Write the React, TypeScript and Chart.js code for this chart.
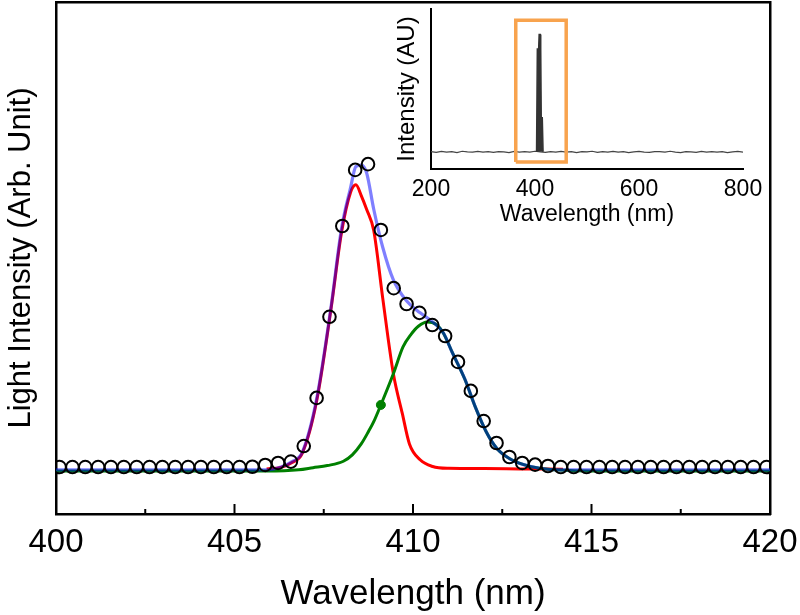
import React, { useEffect, useRef } from "react";
import { Chart, registerables } from "chart.js";

Chart.register(...registerables);

// ---------- main chart data ----------
const measX = [
  400.1, 400.46, 400.82, 401.18, 401.54, 401.9, 402.26, 402.62, 402.98, 403.34,
  403.7, 404.06, 404.42, 404.78, 405.14, 405.5, 405.86, 406.22, 406.58, 406.94,
  407.3, 407.66, 408.02, 408.38, 408.74, 409.1, 409.46, 409.82, 410.18, 410.54,
  410.9, 411.26, 411.62, 411.98, 412.34, 412.7, 413.06, 413.42, 413.78, 414.14,
  414.5, 414.86, 415.22, 415.58, 415.94, 416.3, 416.66, 417.02, 417.38, 417.74,
  418.1, 418.46, 418.82, 419.18, 419.54, 419.9,
];
const measY = [
  0.4, 0.4, 0.4, 0.4, 0.4, 0.4, 0.4, 0.4, 0.4, 0.4,
  0.4, 0.4, 0.4, 0.4, 0.4, 0.5, 1.1, 1.75, 2.2, 7.3,
  23.1, 49.7, 79.5, 97.9, 99.8, 78.2, 59.1, 53.9, 51.0, 47.0,
  43.4, 34.9, 25.4, 15.5, 8.3, 3.7, 1.75, 1.2, 0.75, 0.4,
  0.4, 0.4, 0.4, 0.4, 0.4, 0.4, 0.4, 0.4, 0.4, 0.4,
  0.4, 0.4, 0.4, 0.4, 0.4, 0.4,
];

const peak1X = [405.9, 406.3, 406.6, 406.9, 407.3, 407.7, 408.0, 408.25, 408.4, 408.55, 408.7, 408.9, 409.15, 409.45, 409.7, 409.9, 410.2, 410.55, 411.0, 412.0, 413.0, 414.2];
const peak1Y = [-0.2, 0.3, 1.8, 5.0, 22.0, 52.0, 77.5, 90.5, 93.0, 89.5, 85.0, 78.0, 56.0, 31.0, 18.0, 8.0, 2.8, 0.6, 0.0, -0.1, -0.2, -0.3];

const peak2X = [400, 405.9, 406.8, 407.2, 407.6, 408.05, 408.3, 408.55, 408.75, 408.9, 409.1, 409.45, 409.72, 409.95, 410.15, 410.4, 410.65, 410.85, 411.1, 411.45, 411.75, 412.05, 412.35, 412.7, 413.1, 413.55, 414.1, 415, 420];
const peak2Y = [-0.9, -0.9, -0.5, 0.2, 0.9, 2.3, 4.4, 8.0, 12.0, 15.3, 20.8, 31.0, 39.8, 44.0, 46.6, 48.0, 47.2, 44.4, 38.0, 29.3, 20.0, 12.0, 6.5, 3.2, 1.2, 0.0, -0.6, -0.9, -0.9];

const sumX = [400, 405.9, 406.3, 406.6, 406.9, 407.3, 407.7, 408.0, 408.25, 408.4, 408.55, 408.7, 408.9, 409.15, 409.45, 409.8, 410.2, 410.5, 410.85, 411.1, 411.45, 411.75, 412.05, 412.35, 412.7, 413.1, 413.55, 414.1, 415, 420];
const sumY = [-0.55, -0.55, 0.4, 2.1, 5.3, 22.7, 52.6, 78.8, 92.0, 99.0, 99.5, 97.0, 85.0, 72.6, 61.8, 55.2, 51.0, 48.5, 44.4, 38.0, 29.3, 20.0, 12.0, 6.5, 3.2, 1.2, 0.0, -0.55, -0.55, -0.55];

const markerX = [409.1];
const markerY = [20.8];

const majorTicks = [400, 405, 410, 415, 420];
const minorTicks = [402.5, 407.5, 412.5, 417.5];

// ---------- inset data ----------
const insetX = [
  200, 210, 220, 230, 240, 250, 260, 270, 280, 290,
  300, 310, 320, 330, 340, 350, 360, 370, 380, 390,
  400, 410, 420, 430, 440, 450, 460, 470, 480, 490,
  500, 510, 520, 530, 540, 550, 560, 570, 580, 590,
  600, 610, 620, 630, 640, 650, 660, 670, 680, 690,
  700, 710, 720, 730, 740, 750, 760, 770, 780, 790,
  800,
];
const insetY = [
  0.108, 0.104, 0.110, 0.106, 0.109, 0.103, 0.111, 0.107, 0.105, 0.110,
  0.106, 0.108, 0.104, 0.109, 0.107, 0.103, 0.110, 0.106, 0.108, 0.105,
  0.111, 0.107, 0.104, 0.109, 0.106, 0.110, 0.105, 0.108, 0.103, 0.109,
  0.107, 0.111, 0.104, 0.108, 0.106, 0.110, 0.105, 0.109, 0.103, 0.107,
  0.110, 0.106, 0.104, 0.109, 0.108, 0.105, 0.111, 0.106, 0.103, 0.109,
  0.107, 0.104, 0.110, 0.106, 0.108, 0.105, 0.109, 0.103, 0.107, 0.110,
  0.106,
];
const spikeX = [403, 404.5, 405.5, 407, 408, 410, 411, 412, 414, 415.5, 417];
const spikeY = [0.108, 0.75, 0.75, 0.75, 0.84, 0.84, 0.75, 0.32, 0.32, 0.108, 0.108];
const boxX = [363, 363, 460, 460, 363];
const boxY = [0.044, 0.93, 0.93, 0.044, 0.044];
const insetTicks = [200, 400, 600, 800];

const FONT = "'Liberation Sans', Arial, sans-serif";

const pts = (xs: number[], ys: number[]) => xs.map((x, i) => ({ x, y: ys[i] }));

const zeroPad = (s: any) => {
  s.paddingLeft = 0;
  s.paddingRight = 0;
  s.paddingTop = 0;
  s.paddingBottom = 0;
};

const innerTicks = {
  id: "innerTicks",
  afterDraw(chart: any) {
    const { ctx, chartArea } = chart;
    const xs = chart.scales.x;
    ctx.save();
    ctx.strokeStyle = "#000";
    ctx.lineWidth = 2;
    const draw = (v: number, len: number) => {
      const px = xs.getPixelForValue(v);
      ctx.beginPath();
      ctx.moveTo(px, chartArea.bottom);
      ctx.lineTo(px, chartArea.bottom - len);
      ctx.stroke();
    };
    majorTicks.forEach((v) => draw(v, 10));
    minorTicks.forEach((v) => draw(v, 5));
    ctx.restore();
  },
};

export default function App() {
  const mainRef = useRef<HTMLCanvasElement | null>(null);
  const insetRef = useRef<HTMLCanvasElement | null>(null);

  useEffect(() => {
    if (!mainRef.current || !insetRef.current) return;
    const border = { display: true, color: "#000", width: 2.5 };
    const main = new Chart(mainRef.current, {
      type: "line",
      data: {
        datasets: [
          {
            data: pts(markerX, markerY),
            showLine: false,
            pointRadius: 4.5,
            pointBackgroundColor: "rgb(0,128,0)",
            pointBorderColor: "rgb(0,128,0)",
            pointBorderWidth: 1,
          },
          {
            data: pts(measX, measY),
            showLine: false,
            pointRadius: 6.3,
            pointBorderWidth: 2,
            pointBorderColor: "#000",
            pointBackgroundColor: "rgba(0,0,0,0)",
          },
          {
            data: pts(sumX, sumY),
            borderColor: "rgba(0,0,255,0.5)",
            borderWidth: 3.2,
            pointRadius: 0,
            cubicInterpolationMode: "monotone",
          },
          {
            data: pts(peak2X, peak2Y),
            borderColor: "rgb(0,128,0)",
            borderWidth: 3,
            pointRadius: 0,
            cubicInterpolationMode: "monotone",
          },
          {
            data: pts(peak1X, peak1Y),
            borderColor: "rgb(255,0,0)",
            borderWidth: 3,
            pointRadius: 0,
            cubicInterpolationMode: "monotone",
          },
        ],
      },
      options: {
        responsive: false,
        animation: false,
        events: [],
        layout: { padding: 0, autoPadding: false },
        plugins: { legend: { display: false }, tooltip: { enabled: false } },
        scales: {
          x: {
            type: "linear",
            position: "bottom",
            min: 400,
            max: 420,
            grid: { display: false, drawTicks: false },
            border,
            ticks: {
              stepSize: 5,
              padding: 9,
              color: "#000",
              font: { family: FONT, size: 33 },
            },
            title: {
              display: true,
              text: "Wavelength (nm)",
              color: "#000",
              font: { family: FONT, size: 35 },
              padding: { top: 0, bottom: 0 },
            },
            afterFit: (s: any) => {
              s.height = 101;
              zeroPad(s);
            },
          },
          xt: {
            type: "linear",
            position: "top",
            min: 400,
            max: 420,
            grid: { display: false, drawTicks: false },
            border,
            ticks: { display: false },
            afterFit: (s: any) => {
              s.height = 2;
              zeroPad(s);
            },
          },
          y: {
            type: "linear",
            position: "left",
            min: -15,
            max: 153,
            grid: { display: false, drawTicks: false },
            border,
            ticks: { display: false },
            title: {
              display: true,
              text: "Light Intensity (Arb. Unit)",
              color: "#000",
              font: { family: FONT, size: 31 },
              padding: { top: 3, bottom: 0 },
            },
            afterFit: (s: any) => {
              s.width = 56;
              zeroPad(s);
            },
          },
          yr: {
            type: "linear",
            position: "right",
            min: -15,
            max: 153,
            grid: { display: false, drawTicks: false },
            border,
            ticks: { display: false },
            afterFit: (s: any) => {
              s.width = 30;
              zeroPad(s);
            },
          },
        },
      },
      plugins: [innerTicks],
    } as any);

    const inset = new Chart(insetRef.current, {
      type: "line",
      data: {
        datasets: [
          {
            data: pts(boxX, boxY),
            borderColor: "#f8a34e",
            borderWidth: 3.5,
            pointRadius: 0,
            tension: 0,
          },
          {
            data: pts(spikeX, spikeY),
            borderColor: "#333",
            borderWidth: 1.5,
            backgroundColor: "#333",
            fill: { value: 0.108 },
            pointRadius: 0,
            tension: 0,
          },
          {
            data: pts(insetX, insetY),
            borderColor: "#444",
            borderWidth: 1.2,
            pointRadius: 0,
            tension: 0,
          },
        ],
      },
      options: {
        responsive: false,
        animation: false,
        events: [],
        layout: { padding: { left: 393, top: 9, right: 57, bottom: 386 }, autoPadding: false },
        plugins: { legend: { display: false }, tooltip: { enabled: false } },
        scales: {
          x: {
            type: "linear",
            min: 200,
            max: 800,
            grid: { display: false, drawTicks: true, tickLength: 3, tickColor: "#000", tickWidth: 2 },
            border: { display: true, color: "#000", width: 2 },
            afterBuildTicks: (s: any) => {
              s.ticks = insetTicks.map((v) => ({ value: v }));
            },
            ticks: {
              padding: 4,
              color: "#000",
              font: { family: FONT, size: 23 },
            },
            title: {
              display: true,
              text: "Wavelength (nm)",
              color: "#000",
              font: { family: FONT, size: 23 },
              padding: { top: 0, bottom: 1 },
            },
            afterFit: (s: any) => {
              s.height = 60;
              zeroPad(s);
            },
          },
          y: {
            type: "linear",
            min: 0,
            max: 1,
            grid: { display: false, drawTicks: false },
            border: { display: true, color: "#000", width: 2 },
            ticks: { display: false },
            title: {
              display: true,
              text: "Intensity (AU)",
              color: "#000",
              font: { family: FONT, size: 24 },
              padding: { top: 0, bottom: 0 },
            },
            afterFit: (s: any) => {
              s.width = 38;
              zeroPad(s);
            },
          },
        },
      },
    } as any);

    return () => {
      main.destroy();
      inset.destroy();
    };
  }, []);

  return (
    <div style={{ position: "absolute", left: 0, top: 0, width: 800, height: 615, background: "#fff" }}>
      <canvas ref={mainRef} width={800} height={615} style={{ position: "absolute", left: 0, top: 0 }} />
      <canvas ref={insetRef} width={800} height={615} style={{ position: "absolute", left: 0, top: 0 }} />
    </div>
  );
}
